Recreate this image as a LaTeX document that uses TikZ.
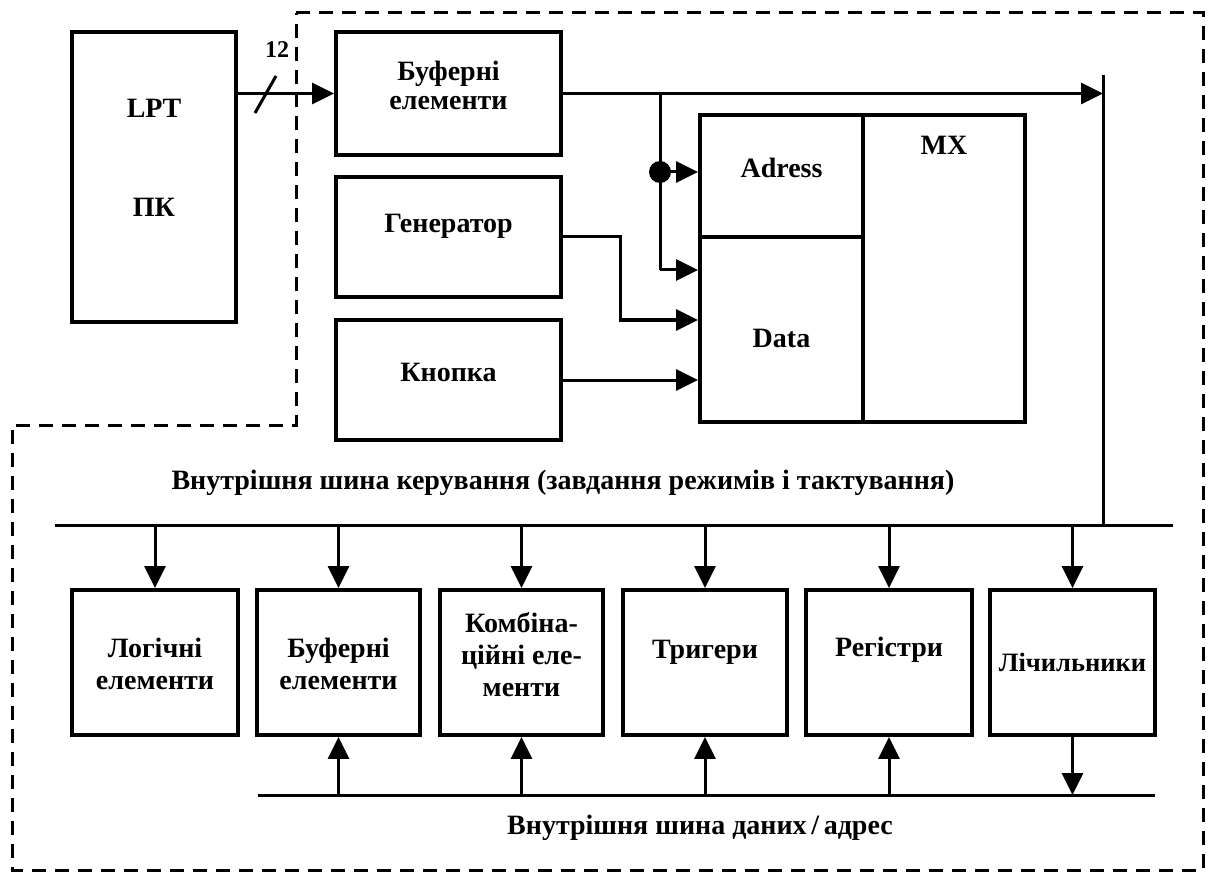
\documentclass[tikz,border=0pt]{standalone}
\usepackage{fontspec}
\setmainfont{Liberation Serif}
\usetikzlibrary{arrows.meta}
\tikzset{
  blk/.style={draw, line width=3.8pt, inner sep=0pt, align=center},
  lbl/.style={font=\fontsize{28}{32}\selectfont\bfseries, align=center, inner sep=0pt},
  wire/.style={line width=3pt},
  arr/.style={wire, -{Triangle[length=22pt,width=21pt]}},
  bound/.style={line width=3pt, dash pattern=on 14pt off 9pt}
}
\begin{document}
\begin{tikzpicture}[x=1pt,y=-1pt]
\useasboundingbox (0,0) rectangle (1218,877);
% dashed boundary
\draw[bound] (296,13) -- (1203,13) -- (1203,870) -- (12,870) -- (12,425) -- (296,425) -- cycle;
% LPT
\node[blk, minimum width=164pt, minimum height=290pt] (lpt) at (154,177) {};
\node[lbl] (lptT) at (154,108) {LPT};
\node[lbl] (pk) at (154,207) {ПК};
% top boxes
\node[blk, minimum width=225pt, minimum height=123pt] (buf1) at (448.5,93.5) {};
\node[lbl, font=\fontsize{28}{29}\selectfont\bfseries] (buf1T) at (448.5,85) {Буферні\\елементи};
\node[blk, minimum width=225pt, minimum height=120pt] (gen) at (448.5,237) {};
\node[lbl] (genT) at (448.5,226) {Генератор};
\node[blk, minimum width=225pt, minimum height=120pt] (kn) at (448.5,380) {};
\node[lbl] (knT) at (448.5,372) {Кнопка};
% MX
\node[blk, minimum width=163pt, minimum height=122pt] (adr) at (781.5,176) {};
\node[lbl] (adrT) at (781.5,168) {Adress};
\node[blk, minimum width=163pt, minimum height=185pt] (data) at (781.5,329.5) {};
\node[lbl] (dataT) at (781.5,338) {Data};
\node[blk, minimum width=162pt, minimum height=307pt] (mx) at (944,268.5) {};
\node[lbl] (mxT) at (944,145) {MX};
% LPT -> buffer with bus slash
\draw[arr] (lpt.east |- buf1.west) -- (buf1.west);
\coordinate (s1) at (255,113);
\coordinate (s2) at (276,76);
\draw[wire] (s1) -- (s2);
\node[font=\fontsize{24}{28}\selectfont\bfseries, inner sep=0pt] (n12) at (277,50) {12};
% top line and bar
\coordinate (barT) at (1103,75);
\coordinate (barB) at (1103,525);
\coordinate (br) at (660,93.5);
\draw[arr] (buf1.east) -- (barT |- buf1.east);
\draw[wire] (barT) -- (barB);
\coordinate (dot) at (660,172);
\coordinate (brD) at (660,270);
\draw[wire] (br) -- (brD);
\fill (dot) circle (11pt);
\draw[arr] (dot) -- (adr.west |- dot);
\draw[arr] (brD) -- (data.west |- brD);
% generator
\coordinate (g1) at (620,237);
\coordinate (g2) at (620,320);
\draw[arr] (gen.east) -- (g1) -- (g2) -- (data.west |- g2);
% button
\draw[arr] (kn.east) -- (data.west |- kn.east);
% control bus
\node[lbl] (cbT) at (563,483) {Внутрішня шина керування (завдання режимів і тактування)};
\coordinate (cb1) at (55,525);
\coordinate (cb2) at (1173,525);
\draw[wire] (cb1) -- (cb2);
% bottom boxes
\node[blk, minimum width=166pt, minimum height=145pt] (b1) at (155,662.5) {};
\node[blk, minimum width=163pt, minimum height=145pt] (b2) at (338.5,662.5) {};
\node[blk, minimum width=163pt, minimum height=145pt] (b3) at (521.5,662.5) {};
\node[blk, minimum width=164pt, minimum height=145pt] (b4) at (705,662.5) {};
\node[blk, minimum width=166pt, minimum height=145pt] (b5) at (889,662.5) {};
\node[blk, minimum width=165pt, minimum height=145pt] (b6) at (1072.5,662.5) {};
\node[lbl] (b1T) at (155,664) {Логічні\\елементи};
\node[lbl] (b2T) at (338.5,664) {Буферні\\елементи};
\node[lbl] (b3T) at (521.5,655) {Комбіна-\\ційні еле-\\менти};
\node[lbl] (b4T) at (705,652) {Тригери};
\node[lbl] (b5T) at (889,650) {Регістри};
\node[lbl, font=\fontsize{26.5}{30}\selectfont\bfseries] (b6T) at (1072.5,662) {Лічильники};
\foreach \b in {b1,b2,b3,b4,b5,b6}{
  \draw[arr] (\b.north |- cb1) -- (\b.north);
}
% data bus
\coordinate (db1) at (258,795);
\coordinate (db2) at (1155,795);
\draw[wire] (db1) -- (db2);
\foreach \b in {b2,b3,b4,b5}{
  \draw[arr] (\b.south |- db1) -- (\b.south);
}
\draw[arr] (b6.south) -- (b6.south |- db1);
\node[lbl] (dbT) at (700,828) {Внутрішня шина даних\,/\,адрес};
\end{tikzpicture}
\end{document}
